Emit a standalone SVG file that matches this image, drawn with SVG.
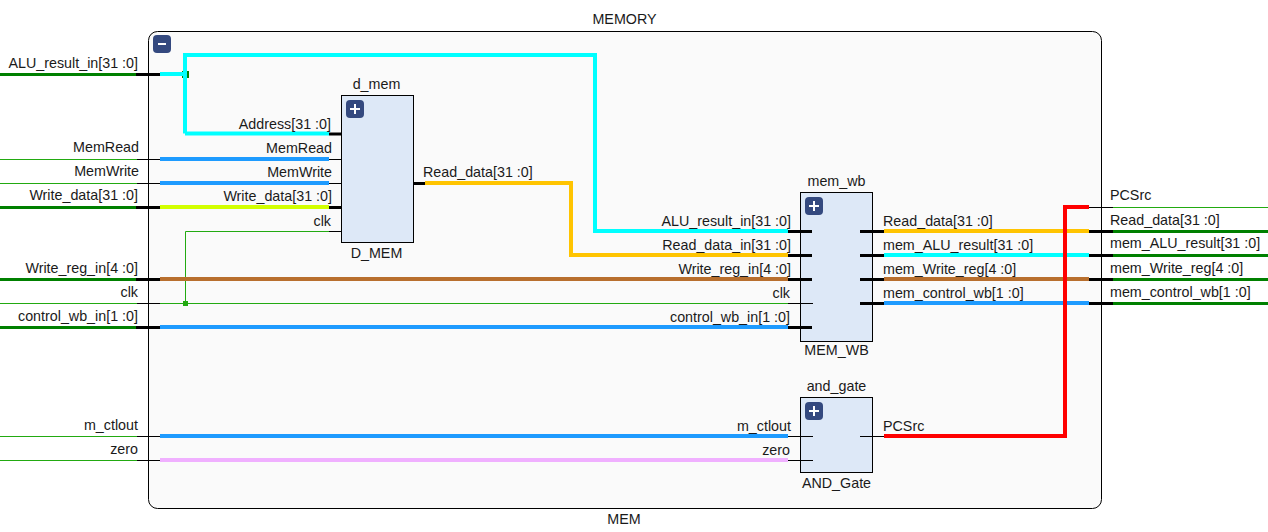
<svg xmlns="http://www.w3.org/2000/svg" width="1268" height="532" viewBox="0 0 1268 532">
<style>
text{font-family:"Liberation Sans",Arial,sans-serif;font-size:14.3px;fill:#1a1a1a}
.e{text-anchor:end}.m{text-anchor:middle}
.box{fill:#dde8f7;stroke:#000;stroke-width:1}
.btn{fill:#34497f}
.sym{stroke:#fff;stroke-width:2;fill:none}
.w{fill:none;stroke-width:4}
.p{fill:none;stroke:#000;stroke-width:3}
.t{fill:none;stroke:#000;stroke-width:1}
.g{fill:none;stroke:#008000;stroke-width:3}
.gt{fill:none;stroke:#22aa11;stroke-width:1}
</style>
<rect width="1268" height="532" fill="#fff"/>
<g id="MEMORY">
<rect x="148.5" y="31.5" width="953" height="477" rx="9" fill="#fafafa" stroke="#000"/>
<rect class="btn" x="153" y="35" width="18" height="18" rx="4"/>
<path class="sym" d="M158 44H166"/>
<text class="m" x="624.500" y="24">MEMORY</text>
<text class="m" x="624" y="524">MEM</text>
</g>
<g id="connectors">
<path class="g" d="M0 74.500H136M0 207.500H136M0 279.500H136M0 327.500H136M1113 231.500H1268M1113 255.500H1268M1113 279.500H1268M1113 303.500H1268"/>
<path class="p" d="M136 74.500H160M136 207.500H160M136 279.500H160M136 327.500H160M1089 231.500H1113M1089 255.500H1113M1089 279.500H1113M1089 303.500H1113"/>
<path class="gt" d="M0 159.500H137M0 183.500H137M0 303.500H137M0 436.500H137M0 460.500H137M1113 207.500H1268"/>
<path class="t" d="M137 159.500H160M137 183.500H160M137 303.500H160M137 436.500H160M137 460.500H160M1089 207.500H1113"/>
<path class="gt" d="M160 303.500H788M185.500 303.500V231.500H329"/>
<rect x="183" y="301" width="5" height="5" fill="#22aa11"/>
<rect x="182" y="71" width="7" height="7" fill="#008000"/>
<path class="w" stroke="#00ffff" d="M160 74H183M185 133.500V55H595V231H788M185 133.500H329"/>
<path class="w" stroke="#1e9bff" d="M160 159H329M160 183H329M160 327H788M160 436H788M884 303H1089"/>
<path class="w" stroke="#d2ff00" d="M160 207H329"/>
<path class="w" stroke="#ffc400" d="M425 183H571V255H788M884 231H1089"/>
<path class="w" stroke="#b86f2e" d="M160 279H788M884 279H1089"/>
<path class="w" stroke="#f0b0ff" d="M160 460H788"/>
<path class="w" stroke="#00ffff" d="M884 255H1089"/>
<path class="w" stroke="#ff0000" d="M884 436H1065V207H1089"/>
<path class="p" d="M329 134H341M329 207.500H341M413 183.500H425"/>
<path class="t" d="M329 159.500H341M329 183.500H341M329 231.500H341"/>
</g>
<g id="d_mem">
<rect class="box" x="341.500" y="95.500" width="72" height="147"/>
<rect class="btn" x="346" y="100" width="18" height="18" rx="4"/>
<path class="sym" d="M350 109H360M355 104V114"/>
<text class="m" x="376.500" y="89">d_mem</text>
<text class="m" x="376.500" y="258">D_MEM</text>
</g>
<g id="mem_wb">
<rect class="box" x="800.500" y="192.500" width="72" height="149"/>
<path class="p" d="M788 231.500H812M788 255.500H812M788 279.500H812M788 327.500H812M860 231.500H884M860 255.500H884M860 279.500H884M860 303.500H884"/>
<path class="t" d="M788 303.500H813"/>
<rect class="btn" x="805" y="197" width="18" height="18" rx="4"/>
<path class="sym" d="M809 206H819M814 201V211"/>
<text class="m" x="836.500" y="186">mem_wb</text>
<text class="m" x="836.500" y="355">MEM_WB</text>
</g>
<g id="and_gate">
<rect class="box" x="800.500" y="397.500" width="72" height="75"/>
<path class="t" d="M788 436.500H813M788 460.500H813M860 436.500H884"/>
<rect class="btn" x="805" y="402" width="18" height="18" rx="4"/>
<path class="sym" d="M809 411H819M814 406V416"/>
<text class="m" x="836.500" y="391">and_gate</text>
<text class="m" x="836.500" y="488">AND_Gate</text>
</g>
<g id="labels">
<text class="e" x="138" y="68">ALU_result_in[31 :0]</text>
<text class="e" x="139" y="152">MemRead</text>
<text class="e" x="139" y="176">MemWrite</text>
<text class="e" x="138" y="200">Write_data[31 :0]</text>
<text class="e" x="138" y="273">Write_reg_in[4 :0]</text>
<text class="e" x="138" y="297">clk</text>
<text class="e" x="138" y="321">control_wb_in[1 :0]</text>
<text class="e" x="138" y="430">m_ctlout</text>
<text class="e" x="138" y="454">zero</text>
<text class="e" x="331" y="129">Address[31 :0]</text>
<text class="e" x="332" y="153">MemRead</text>
<text class="e" x="332" y="177">MemWrite</text>
<text class="e" x="332" y="201">Write_data[31 :0]</text>
<text class="e" x="331" y="226">clk</text>
<text x="423" y="177">Read_data[31 :0]</text>
<text class="e" x="791" y="226">ALU_result_in[31 :0]</text>
<text class="e" x="791" y="250">Read_data_in[31 :0]</text>
<text class="e" x="791" y="274">Write_reg_in[4 :0]</text>
<text class="e" x="790" y="298">clk</text>
<text class="e" x="790" y="322">control_wb_in[1 :0]</text>
<text class="e" x="791" y="431">m_ctlout</text>
<text class="e" x="790" y="455">zero</text>
<text x="883" y="226">Read_data[31 :0]</text>
<text x="883" y="250">mem_ALU_result[31 :0]</text>
<text x="883" y="274">mem_Write_reg[4 :0]</text>
<text x="883" y="298">mem_control_wb[1 :0]</text>
<text x="883" y="431">PCSrc</text>
<text x="1110" y="200">PCSrc</text>
<text x="1110" y="225">Read_data[31 :0]</text>
<text x="1110" y="248">mem_ALU_result[31 :0]</text>
<text x="1110" y="273">mem_Write_reg[4 :0]</text>
<text x="1110" y="297">mem_control_wb[1 :0]</text>
</g>
</svg>
